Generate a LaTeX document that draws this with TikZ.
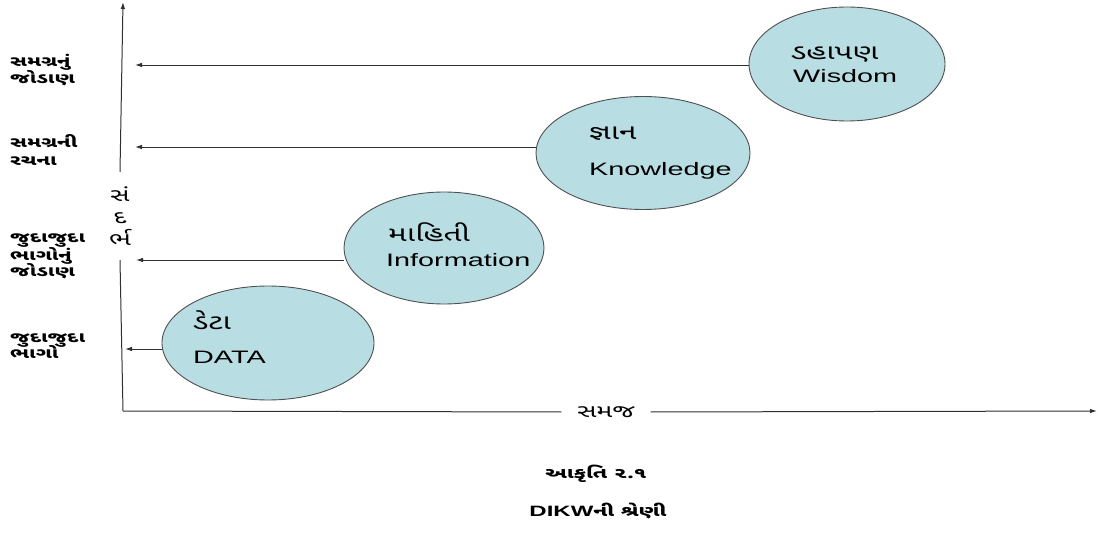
\documentclass[tikz,border=0pt]{standalone}
\usepackage{fontspec}
\setmainfont{Liberation Sans}[FakeStretch=1.5]
\newfontfamily\guj{Noto Sans Gujarati UI}[Script=Gujarati,FakeStretch=1.5]
\newfontfamily\lat{Liberation Sans}[FakeStretch=1.6]
\usetikzlibrary{shapes.geometric,arrows.meta}
\definecolor{efill}{HTML}{B8DDE2}
\definecolor{eline}{HTML}{505050}
\definecolor{aline}{HTML}{303030}
\begin{document}
\begin{tikzpicture}[x=1bp,y=-1bp,
  elli/.style={ellipse,draw=eline,fill=efill,line width=0.9bp,inner sep=0pt},
  gtxt/.style={inner sep=0pt,anchor=base west,font=\guj\fontsize{21bp}{24bp}\selectfont},
  ltxt/.style={inner sep=0pt,anchor=base west,font=\lat\fontsize{18bp}{21bp}\selectfont},
  side/.style={inner sep=0pt,anchor=base west,font=\guj\fontsize{14.5bp}{16bp}\selectfont\bfseries},
  arr/.style={draw=aline,line width=0.9bp,-{Latex[length=7bp,width=4.5bp]}},
  axis/.style={draw=aline,line width=1bp},
  captxt/.style={inner sep=0pt,anchor=base,font=\fontsize{15bp}{18bp}\selectfont\bfseries}]
\useasboundingbox (0,0) rectangle (1099,533);
% axes
\coordinate (origin) at (123,411);
\coordinate (ytop) at (123,2);
\coordinate (xend) at (1097,411);
\node[inner sep=0pt,minimum height=88bp,minimum width=30bp,align=center,
  font=\guj\fontsize{18bp}{22bp}\selectfont] (vlab) at (120,216) {સં\\દ\\ર્ભ};
\node[inner sep=0pt,minimum width=89bp,minimum height=20bp,
  font=\guj\fontsize{18bp}{20bp}\selectfont] (xlab) at (606,412) {સમજ};
\draw[axis] (origin) -- (vlab.south);
\draw[axis,-{Latex[length=7bp,width=4.5bp]}] (vlab.north) -- (ytop);
\draw[axis] (origin) -- (xlab.west);
\draw[axis,-{Latex[length=7bp,width=4.5bp]}] (xlab.east) -- (xend);
% ellipses
\node[elli,minimum width=212bp,minimum height=114bp] (data) at (268,343) {};
\node[elli,minimum width=200bp,minimum height=112bp] (info) at (444,248) {};
\node[elli,minimum width=214bp,minimum height=113bp] (know) at (643,153) {};
\node[elli,minimum width=196bp,minimum height=114bp] (wis) at (847,64) {};
% texts in ellipses
\node[gtxt] (datag) at (193,330) {ડેટા};
\node[ltxt] (datal) at (193,364) {DATA};
\node[gtxt] (infog) at (388,242) {માહિતી};
\node[ltxt] (infol) at (386,267) {Information};
\node[gtxt] (knowg) at (589,140) {જ્ઞાન};
\node[ltxt] (knowl) at (589,176) {Knowledge};
\node[gtxt] (wisg) at (791,60) {ડહાપણ};
\node[ltxt] (wisl) at (793,83) {Wisdom};
% arrows
\coordinate (a1) at (125,349);
\coordinate (a2) at (136,260);
\coordinate (a3) at (135,147);
\coordinate (a4) at (135,65);
\draw[arr] (data.west |- a1) -- (a1);
\draw[arr] (info.west |- a2) -- (a2);
\draw[arr] (know.west |- a3) -- (a3);
\draw[arr] (wis.west |- a4) -- (a4);
% side labels
\node[side] (s1a) at (10,67) {સમગ્રનું};
\node[side] (s1b) at (10,84) {જોડાણ};
\node[side] (s2a) at (10,148) {સમગ્રની};
\node[side] (s2b) at (10,166) {રચના};
\node[side] (s3a) at (10,243) {જુદાજુદા};
\node[side] (s3b) at (10,261) {ભાગોનું};
\node[side] (s3c) at (10,277) {જોડાણ};
\node[side] (s4a) at (10,343) {જુદાજુદા};
\node[side] (s4b) at (10,359) {ભાગો};
% caption
\node[captxt] (cap1) at (596,478) {\guj આકૃતિ ૨.૧};
\node[captxt] (cap2) at (598,516) {{\lat DIKW}{\guj ની શ્રેણી}};
\end{tikzpicture}
\end{document}
